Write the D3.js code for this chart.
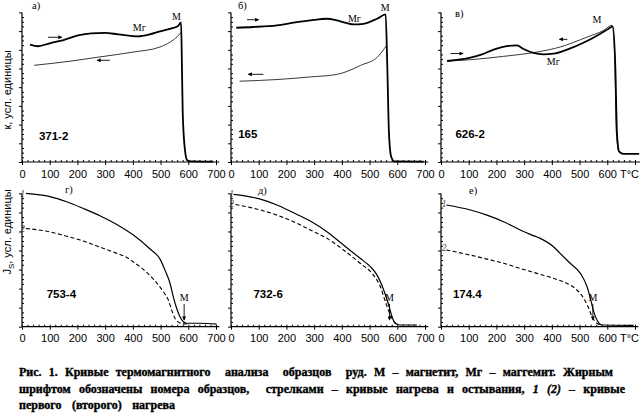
<!DOCTYPE html>
<html>
<head>
<meta charset="utf-8">
<script src="https://cdn.jsdelivr.net/npm/d3@7"></script>
<style>
  body { margin: 0; background: #fff; }
  svg { display: block; }
</style>
</head>
<body>
<svg id="chart" width="642" height="419"></svg>
<script>
(function() {
    // temperature ticks (°C)
    const tempTicks = [0, 100, 200, 300, 400, 500, 600, 700];

    // а) 371-2 : kappa, heating (thick) and cooling (thin)
    const heat371 = [[29,6.28],[58,6.19],[100,6.35],[150,6.52],[202,6.77],[250,6.88],[299,6.9],[346,6.83],[418,6.72],[460,6.82],[498,6.99],[540,7.15],[563,7.27],[574,7.47],[577,5.2],[580,2.6],[588,0.64],[596,0.1],[610,0.03],[690,0.02]];
    const cool371 = [[44,5.17],[173,5.39],[281,5.62],[402,5.88],[498,6.15],[534,6.41],[560,6.7],[575,6.95]];

    // б) 165
    const heat165 = [[19,7.18],[80,7.22],[166,7.31],[226,7.45],[286,7.57],[346,7.66],[382,7.57],[418,7.43],[442,7.36],[478,7.39],[527,7.66],[558,7.89],[564,5.08],[570,1.53],[578,0.28],[590,0.03],[695,0.02]];
    const cool165 = [[31,4.32],[166,4.41],[287,4.55],[384,4.69],[420,4.85],[468,5.17],[529,5.62],[553,6.06],[562,6.25]];

    // в) 626-2
    const heat626 = [[22,5.40],[106,5.58],[148,5.76],[190,6.01],[238,6.20],[274,6.24],[298,6.04],[334,5.83],[370,5.76],[406,5.79],[455,6.01],[527,6.47],[575,6.86],[605,7.13],[620,7.25],[629,5.08],[635,1.53],[643,0.55],[659,0.43],[715,0.43]];
    const cool626 = [[22,5.39],[106,5.47],[226,5.65],[346,5.88],[430,6.15],[527,6.68],[587,7.04],[617,7.31],[626,5.97],[633,1.53],[642,0.55],[660,0.43]];

    // г) 753-4 : Js, first (1) and second (2) heating
    const first753 = [[14,7.0],[101,6.83],[161,6.56],[221,6.21],[281,5.83],[342,5.37],[402,4.81],[462,4.08],[498,3.55],[516,2.97],[534,2.28],[546,1.57],[558,0.97],[570,0.52],[582,0.26],[594,0.18],[642,0.18],[702,0.14]];
    const second753 = [[14,5.16],[101,4.98],[161,4.75],[221,4.5],[281,4.18],[342,3.85],[380,3.62],[402,3.4],[450,2.85],[486,2.3],[510,1.84],[528,1.4],[540,0.88],[552,0.44],[568,0.21],[582,0.15],[600,0.14]];

    // д) 732-6
    const first732 = [[9,6.95],[106,6.70],[166,6.39],[226,5.98],[286,5.55],[346,4.99],[406,4.29],[466,3.59],[503,3.15],[527,2.71],[551,1.93],[569,1.14],[581,0.52],[593,0.18],[611,0.09],[671,0.09]];
    const second732 = [[16,6.42],[106,6.13],[166,5.86],[226,5.51],[286,5.08],[346,4.64],[406,4.03],[466,3.33],[514,2.71],[539,2.10],[557,1.31],[575,0.61],[593,0.18],[605,0.1]];

    // е) 174.4
    const first174 = [[19,6.39],[106,6.13],[166,5.86],[226,5.51],[286,5.08],[322,4.85],[358,4.64],[406,4.20],[430,3.85],[466,3.33],[503,2.80],[527,2.10],[539,1.49],[551,0.79],[563,0.35],[581,0.09],[695,0.07]];
    const second174 = [[19,4.03],[106,3.76],[166,3.55],[226,3.33],[286,3.06],[346,2.80],[406,2.54],[454,2.28],[490,1.93],[515,1.49],[533,0.97],[545,0.52],[557,0.26],[575,0.09]];

    const captionLines = [
        "Рис. 1. Кривые термомагнитного  анализа  образцов  руд. М – магнетит, Мг – маггемит. Жирным",
        "шрифтом обозначены номера образцов,  стрелками – кривые нагрева и остывания, ",
        "первого  (второго)  нагрева"
    ];

    const svg = d3.select("#chart");
    svg.append("rect").attr("width", 642).attr("height", 419).attr("fill", "#fff");

    const sans = "'Liberation Sans', Arial, sans-serif";
    const serif = "'Liberation Serif', 'Times New Roman', serif";
    const W = 194; // 0..700 °C in px

    svg.append("defs").append("marker")
        .attr("id", "head")
        .attr("viewBox", "0 0 10 10")
        .attr("refX", 9).attr("refY", 5)
        .attr("markerWidth", 5).attr("markerHeight", 4)
        .attr("markerUnits", "userSpaceOnUse")
        .attr("orient", "auto")
        .append("path").attr("d", "M0,0L10,5L0,10z").attr("fill", "#000");

    const panels = [
        { letter: "а)", lx: 32, ly: 9, left: 22, bottom: 162, top: 12.4, ymax: 8, kind: "k",
          lines: [heat371, cool371], sample: "371-2", sPos: [61, 1.17],
          arrows: [[94, 144, 6.67], [317, 271, 5.44]],
          marks: [["М", 557, 7.57, "middle"], ["Мг", 400, 6.99, "start"]], axisEnd: 712 },
        { letter: "б)", lx: 238, ly: 9, left: 231, bottom: 162, top: 12.4, ymax: 8, kind: "k",
          lines: [heat165, cool165], sample: "165", sPos: [26, 1.26],
          arrows: [[58, 100, 7.61], [117, 62, 4.69]],
          marks: [["М", 556, 8.1, "middle"], ["Мг", 422, 7.49, "start"]], axisEnd: 712 },
        { letter: "в)", lx: 455, ly: 17, left: 441, bottom: 162, top: 12.4, ymax: 8, kind: "k",
          lines: [heat626, cool626], sample: "626-2", sPos: [52, 1.26],
          arrows: [[34, 80, 5.8], [456, 427, 6.56]],
          marks: [["М", 563, 7.41, "middle"], ["Мг", 382, 5.17, "start"]], axisEnd: 718, tLabel: true },
        { letter: "г)", lx: 65, ly: 193, left: 22, bottom: 326.7, top: 193.4, ymax: 7, kind: "J",
          lines: [first753, second753], sample: "753-4", sPos: [89, 1.49],
          nums: [[2, 6.83], [2, 4.99]], mArrow: 585, axisEnd: 712 },
        { letter: "д)", lx: 258, ly: 194, left: 231, bottom: 326.7, top: 193.4, ymax: 7, kind: "J",
          lines: [first732, second732], sample: "732-6", sPos: [81, 1.49],
          nums: [[2, 6.79], [2, 6.3]], mArrow: 572, axisEnd: 712 },
        { letter: "е)", lx: 469, ly: 194, left: 441, bottom: 326.7, top: 193.4, ymax: 7, kind: "J",
          lines: [first174, second174], sample: "174.4", sPos: [43, 1.49],
          nums: [[11, 6.27], [11, 3.97]], mArrow: 548, axisEnd: 712, tLabel: true }
    ];

    panels.forEach(p => {
        const x = d3.scaleLinear().domain([0, 700]).range([p.left, p.left + W]);
        const y = d3.scaleLinear().domain([0, p.ymax]).range([p.bottom, p.top]);
        const g = svg.append("g");

        // x axis: major ticks down with labels, minor ticks inside
        const xa = g.append("g").attr("transform", `translate(0,${p.bottom})`)
            .call(d3.axisBottom(x).tickValues(tempTicks).tickSize(3).tickPadding(5)
                .tickFormat(d => (d === 700 && p.tLabel) ? "T°C" : d));
        xa.select(".domain").remove();
        xa.selectAll("text").attr("font-family", sans).attr("font-size", 11).attr("fill", "#000");
        if (p.tLabel) xa.selectAll("text").filter(d => d === 700).attr("dx", -6);
        const xm = g.append("g").attr("transform", `translate(0,${p.bottom})`)
            .call(d3.axisBottom(x).tickValues(d3.range(0, 701, 20)).tickSize(-2).tickFormat(""));
        xm.select(".domain").remove();
        g.append("line")
            .attr("x1", x(0)).attr("x2", x(p.axisEnd))
            .attr("y1", p.bottom).attr("y2", p.bottom)
            .attr("stroke", "#000").attr("stroke-width", 1.2);

        // y axis
        const ya = g.append("g").attr("transform", `translate(${p.left},0)`)
            .call(d3.axisLeft(y).tickValues(d3.range(0, p.ymax + 1)).tickSize(3).tickFormat(""));
        ya.select(".domain").remove();
        const ym = g.append("g").attr("transform", `translate(${p.left},0)`)
            .call(d3.axisLeft(y).tickValues(d3.range(0, p.ymax, 0.25).filter(v => v % 1 !== 0)).tickSize(-2).tickFormat(""));
        ym.select(".domain").remove();
        g.append("line")
            .attr("x1", p.left).attr("x2", p.left)
            .attr("y1", y(0)).attr("y2", y(p.ymax))
            .attr("stroke", "#000").attr("stroke-width", 1.2);
        g.selectAll(".tick line").attr("stroke", "#000");

        const line = d3.line().x(d => x(d[0])).y(d => y(d[1])).curve(d3.curveMonotoneX);

        if (p.kind === "k") {
            g.append("path").datum(p.lines[1]).attr("d", line)
                .attr("fill", "none").attr("stroke", "#222").attr("stroke-width", 0.9);
            g.append("path").datum(p.lines[0]).attr("d", line)
                .attr("fill", "none").attr("stroke", "#000").attr("stroke-width", 1.8);
            p.arrows.forEach(a => {
                g.append("line")
                    .attr("x1", x(a[0])).attr("x2", x(a[1]))
                    .attr("y1", y(a[2])).attr("y2", y(a[2]))
                    .attr("stroke", "#000").attr("stroke-width", 0.9)
                    .attr("marker-end", "url(#head)");
            });
            p.marks.forEach(m => {
                g.append("text").attr("x", x(m[1])).attr("y", y(m[2]))
                    .attr("text-anchor", m[3])
                    .attr("font-family", serif).attr("font-size", 10).text(m[0]);
            });
        } else {
            g.append("path").datum(p.lines[1]).attr("d", line)
                .attr("fill", "none").attr("stroke", "#000").attr("stroke-width", 1.1)
                .attr("stroke-dasharray", "4,2.5");
            g.append("path").datum(p.lines[0]).attr("d", line)
                .attr("fill", "none").attr("stroke", "#000").attr("stroke-width", 1.2);
            p.nums.forEach((n, i) => {
                g.append("text").attr("x", x(n[0])).attr("y", y(n[1]))
                    .attr("text-anchor", "middle")
                    .attr("font-family", serif).attr("font-style", "italic")
                    .attr("font-size", 9.5).attr("fill", "#444").text(String(i + 1));
            });
            // Curie point marker
            g.append("text").attr("x", x(p.mArrow)).attr("y", y(1.35))
                .attr("text-anchor", "middle")
                .attr("font-family", serif).attr("font-size", 10).text("М");
            g.append("line")
                .attr("x1", x(p.mArrow)).attr("x2", x(p.mArrow))
                .attr("y1", y(1.2)).attr("y2", y(0.35))
                .attr("stroke", "#000").attr("stroke-width", 0.9)
                .attr("marker-end", "url(#head)");
        }

        g.append("text").attr("x", x(p.sPos[0])).attr("y", y(p.sPos[1]))
            .attr("font-family", sans).attr("font-weight", "bold")
            .attr("font-size", 11.5).text(p.sample);

        svg.append("text").attr("x", p.lx).attr("y", p.ly)
            .attr("font-family", serif).attr("font-size", 10.5).text(p.letter);
    });

    // y axis titles
    svg.append("text")
        .attr("transform", "translate(11,90) rotate(-90)")
        .attr("text-anchor", "middle")
        .attr("font-family", sans).attr("font-size", 11)
        .text("к, усл. единицы");
    const jt = svg.append("text")
        .attr("transform", "translate(11,232) rotate(-90)")
        .attr("text-anchor", "middle")
        .attr("font-family", sans).attr("font-size", 11);
    jt.append("tspan").text("J");
    jt.append("tspan").attr("font-size", 8).attr("dy", 3).text("S");
    jt.append("tspan").attr("dy", -3).text(", усл. единицы");

    // caption, each line fitted to its width in the reference
    const capTargets = [594, 606, 156];
    const capY = [376, 392.5, 409];
    captionLines.forEach((s, i) => {
        const t = svg.append("text").attr("x", 19).attr("y", capY[i])
            .attr("font-family", serif).attr("font-weight", "bold").attr("font-size", 12)
            .attr("stroke", "#000").attr("stroke-width", 0.35)
            .attr("xml:space", "preserve").style("white-space", "pre");
        t.append("tspan").text(s);
        if (i === 1) {
            t.append("tspan").attr("font-style", "italic").text("1 (2)");
            t.append("tspan").text(" – кривые");
        }
        const w = t.node().getComputedTextLength();
        const spaces = (t.text().match(/ /g) || []).length;
        t.attr("word-spacing", (capTargets[i] - w) / spaces);
    });
})();
</script>
</body>
</html>
